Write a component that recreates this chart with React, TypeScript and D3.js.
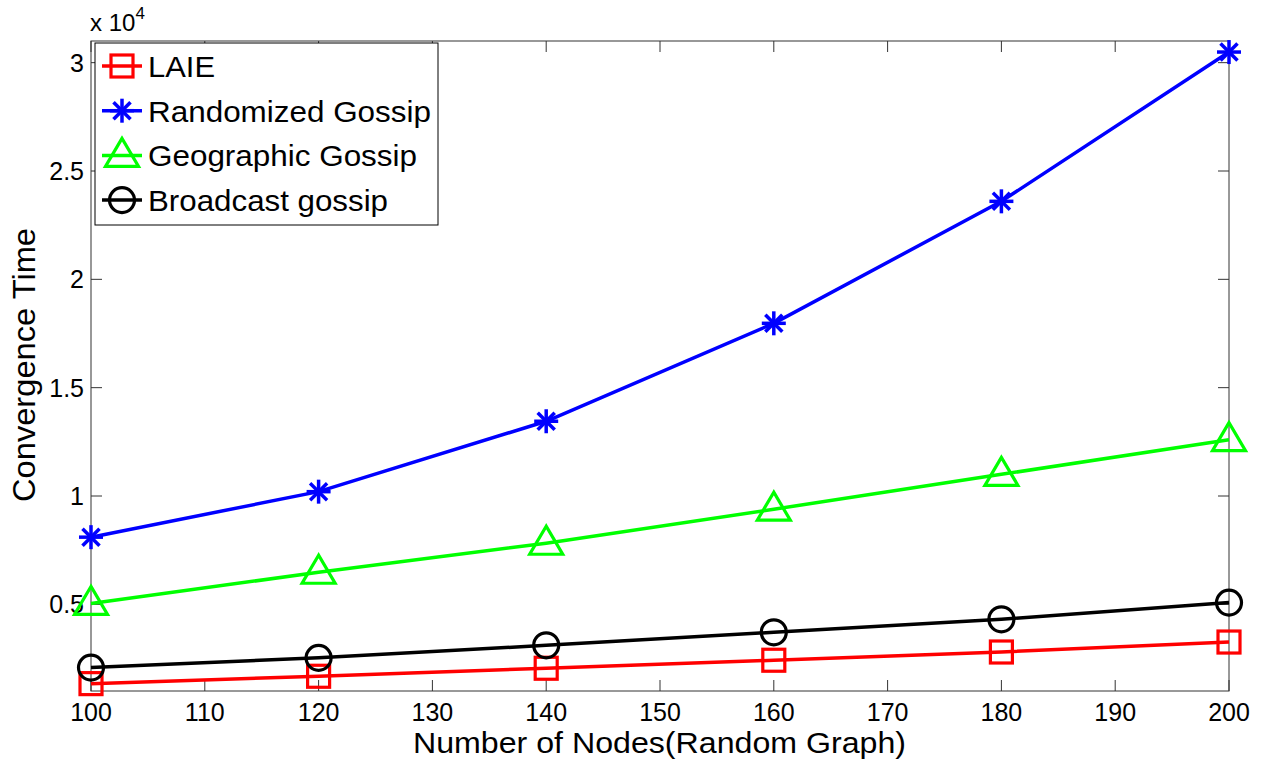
import React from 'react';
import * as d3 from 'd3';

// values
const nodes = [100, 120, 140, 160, 180, 200];
const laie = [1340, 1680, 2050, 2420, 2800, 3260];
const randomized = [8100, 10200, 13450, 17970, 23600, 30490];
const geographic = [5040, 6480, 7820, 9390, 11000, 12600];
const broadcast = [2080, 2530, 3110, 3710, 4310, 5080];

const xTicks = [100, 110, 120, 130, 140, 150, 160, 170, 180, 190, 200];
const yTicks = [5000, 10000, 15000, 20000, 25000, 30000];
const yTickLabels = ['0.5', '1', '1.5', '2', '2.5', '3'];

const seriesNames = ['LAIE', 'Randomized Gossip', 'Geographic Gossip', 'Broadcast gossip'];
const seriesColors = ['#ff0000', '#0000ff', '#00ff00', '#000000'];
const seriesMarkers = ['square', 'star', 'triangle', 'circle'];
const seriesValues = [laie, randomized, geographic, broadcast];
// measured text widths in the original, so the wider rendering matches
const legendWidths = [67, 283, 269, 240];

const width = 1261;
const height = 761;
const left = 91;
const right = 1229;
const top = 41;
const bottom = 691;
const font = '"Liberation Sans", Arial, sans-serif';

const Marker = ({ kind, x, y, color }: { kind: string; x: number; y: number; color: string }) => {
  const sw = 3.2;
  if (kind === 'square') {
    return <rect x={x - 11} y={y - 11} width={22} height={22} fill="none" stroke={color} strokeWidth={sw} />;
  }
  if (kind === 'circle') {
    return <circle cx={x} cy={y} r={12.5} fill="none" stroke={color} strokeWidth={sw} />;
  }
  if (kind === 'triangle') {
    const p = `${x},${y - 17} ${x - 16.5},${y + 11} ${x + 16.5},${y + 11}`;
    return <polygon points={p} fill="none" stroke={color} strokeWidth={sw} />;
  }
  // star: plus and cross
  const s = 12;
  const d = 8.5;
  return (
    <g stroke={color} strokeWidth={3.5}>
      <line x1={x} y1={y - s} x2={x} y2={y + s} />
      <line x1={x - s} y1={y} x2={x + s} y2={y} />
      <line x1={x - d} y1={y - d} x2={x + d} y2={y + d} />
      <line x1={x - d} y1={y + d} x2={x + d} y2={y - d} />
    </g>
  );
};

export default function App() {
  const xScale = d3.scaleLinear().domain([100, 200]).range([left, right]);
  const yScale = d3.scaleLinear().domain([1000, 31000]).range([bottom, top]);

  const line = d3
    .line<number>()
    .x((d, i) => xScale(nodes[i]))
    .y((d) => yScale(d));

  const axisColor = '#333';
  const tickLen = 11;

  return (
    <svg
      width={width}
      height={height}
      style={{ position: 'absolute', left: 0, top: 0, background: '#fff' }}
      fontFamily={font}
    >
      <rect x={0} y={0} width={width} height={height} fill="#fff" />

      {/* axes box */}
      <rect x={left} y={top} width={right - left} height={bottom - top} fill="none" stroke={axisColor} strokeWidth={1} />

      {xTicks.map((t) => (
        <g key={'x' + t}>
          <line x1={xScale(t)} x2={xScale(t)} y1={bottom} y2={bottom - tickLen} stroke={axisColor} />
          <line x1={xScale(t)} x2={xScale(t)} y1={top} y2={top + tickLen} stroke={axisColor} />
          <text x={xScale(t)} y={721} fontSize={25} textAnchor="middle" fill="#000">
            {t}
          </text>
        </g>
      ))}

      {yTicks.map((t, i) => (
        <g key={'y' + t}>
          <line x1={left} x2={left + tickLen} y1={yScale(t)} y2={yScale(t)} stroke={axisColor} />
          <line x1={right} x2={right - tickLen} y1={yScale(t)} y2={yScale(t)} stroke={axisColor} />
          <text x={84} y={yScale(t) + 9} fontSize={25} textAnchor="end" fill="#000">
            {yTickLabels[i]}
          </text>
        </g>
      ))}

      <text x={90} y={31} fontSize={24} fill="#000">
        x 10
        <tspan dy={-12} fontSize={17}>
          4
        </tspan>
      </text>

      <text
        x={413}
        y={753}
        fontSize={30}
        fill="#000"
        textLength={493}
        lengthAdjust="spacingAndGlyphs"
      >
        Number of Nodes(Random Graph)
      </text>
      <text
        transform={`translate(35, 502) rotate(-90)`}
        fontSize={31}
        fill="#000"
        textLength={274}
        lengthAdjust="spacingAndGlyphs"
      >
        Convergence Time
      </text>

      {/* series */}
      {seriesValues.map((vals, si) => (
        <g key={seriesNames[si]}>
          <path d={line(vals) || ''} fill="none" stroke={seriesColors[si]} strokeWidth={3.5} />
          {vals.map((v, i) => (
            <Marker key={i} kind={seriesMarkers[si]} x={xScale(nodes[i])} y={yScale(v)} color={seriesColors[si]} />
          ))}
        </g>
      ))}

      {/* legend */}
      <rect x={95} y={43} width={343} height={182} fill="#fff" stroke="#000" strokeWidth={1} />
      {seriesNames.map((name, i) => {
        const y = 66 + i * 44.7;
        return (
          <g key={'leg' + name}>
            <line x1={102} x2={142} y1={y} y2={y} stroke={seriesColors[i]} strokeWidth={3.5} />
            <Marker kind={seriesMarkers[i]} x={122} y={y} color={seriesColors[i]} />
            <text
              x={148}
              y={y + 11}
              fontSize={30}
              fill="#000"
              textLength={legendWidths[i]}
              lengthAdjust="spacingAndGlyphs"
            >
              {name}
            </text>
          </g>
        );
      })}
    </svg>
  );
}
